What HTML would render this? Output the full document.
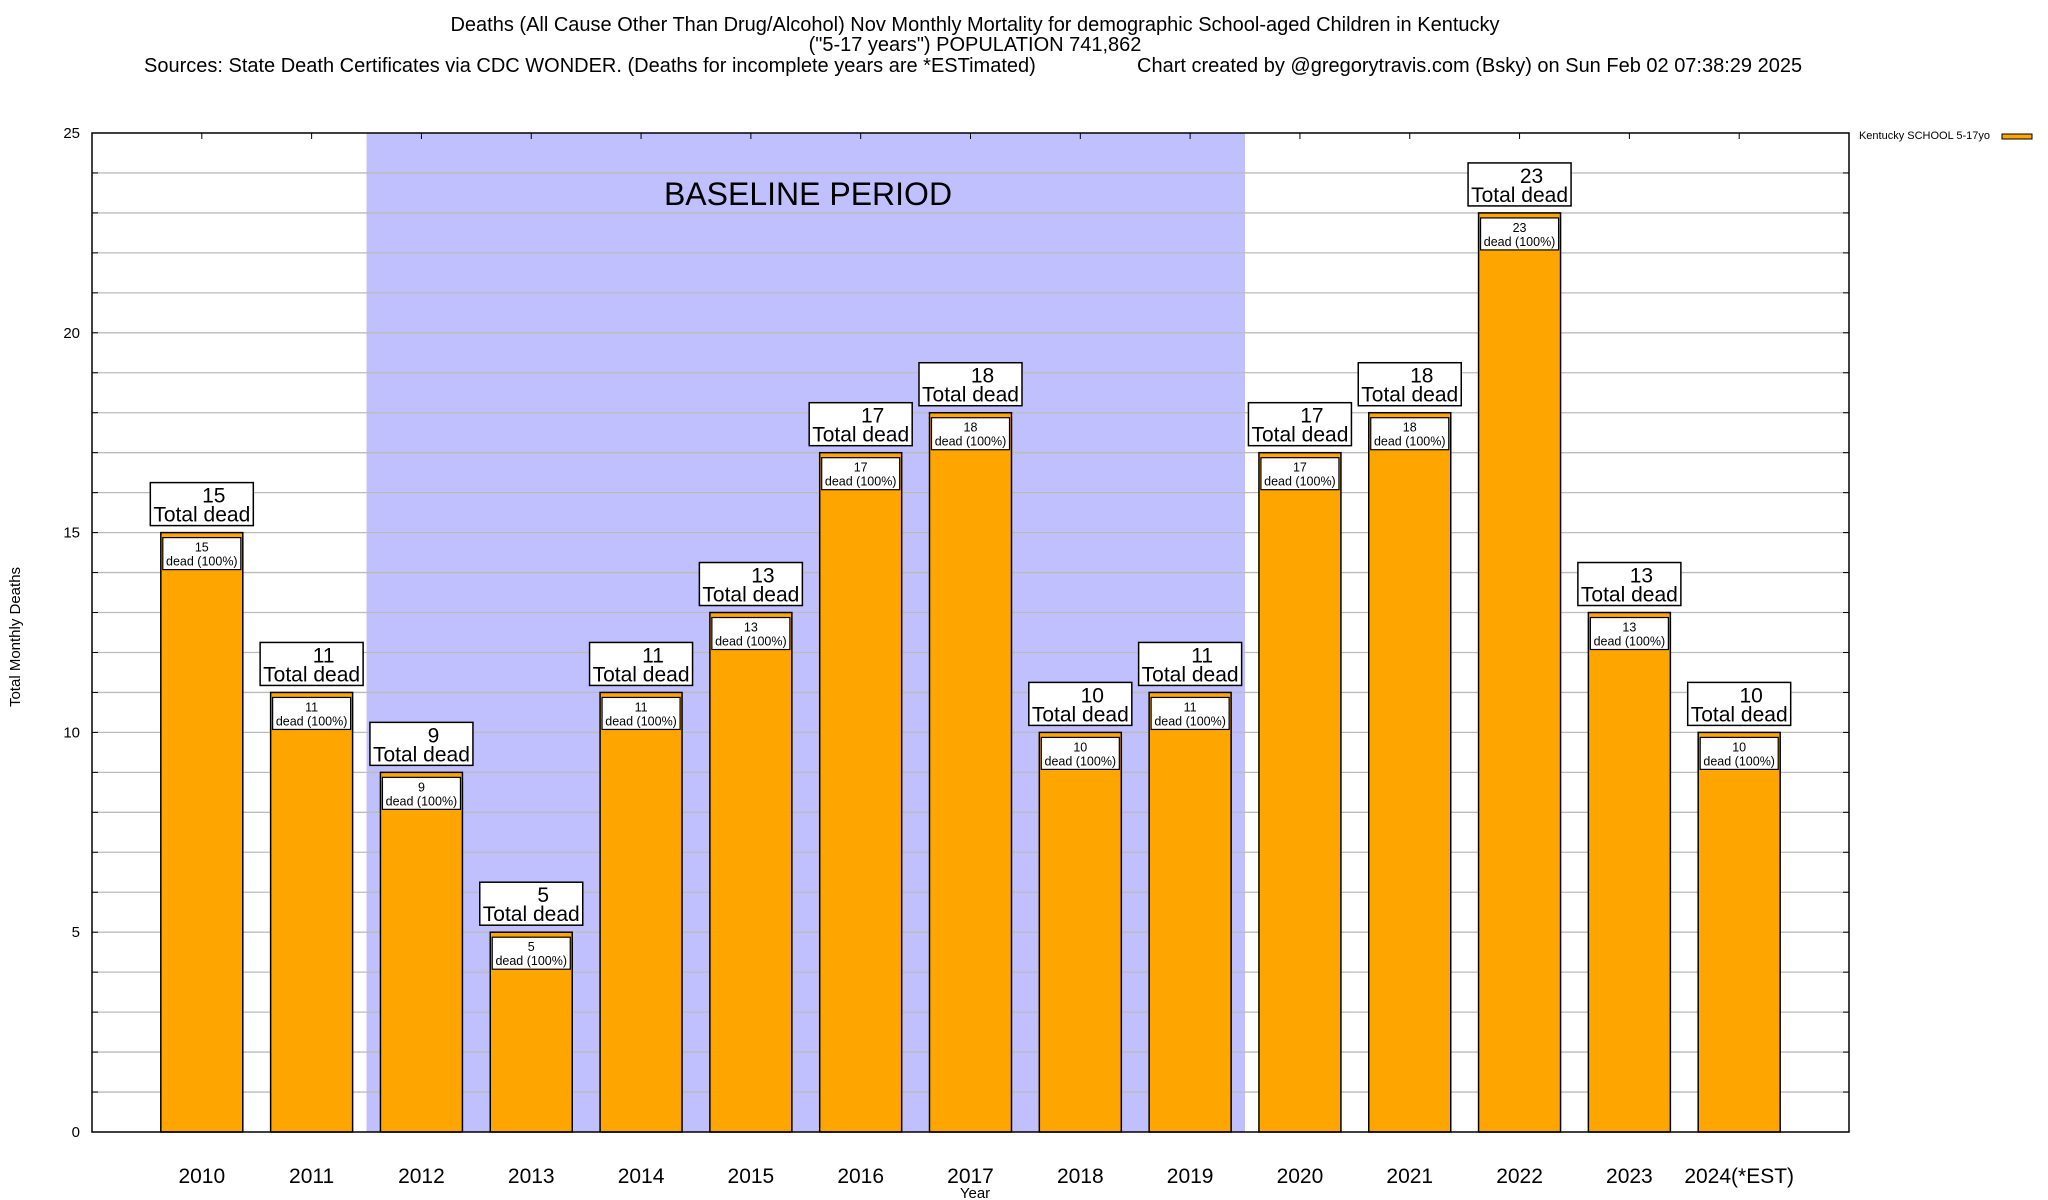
<!DOCTYPE html>
<html><head><meta charset="utf-8"><style>
body{margin:0;background:#fff}
svg{display:block;font-family:"Liberation Sans",Arial,sans-serif}
</style></head><body>
<svg id="chart" width="2048" height="1200" viewBox="0 0 2048 1200" xmlns="http://www.w3.org/2000/svg">
<rect width="2048" height="1200" fill="#fff"/>
<g font-size="20" fill="#000">
<text x="975" y="31" text-anchor="middle">Deaths (All Cause Other Than Drug/Alcohol) Nov Monthly Mortality for demographic School-aged Children in Kentucky</text>
<text x="975" y="51" text-anchor="middle">("5-17 years") POPULATION 741,862</text>
<text x="144" y="72">Sources: State Death Certificates via CDC WONDER. (Deaths for incomplete years are *ESTimated)</text>
<text x="1137" y="72">Chart created by @gregorytravis.com (Bsky) on Sun Feb 02 07:38:29 2025</text>
</g>
<g id="plot"></g>
<g>
<text x="1990" y="139" font-size="11" text-anchor="end">Kentucky SCHOOL 5-17yo</text>
<rect x="2002" y="134" width="30" height="5" fill="#ffa500" stroke="#000" stroke-width="1"/>
</g>
<text transform="translate(20,637) rotate(-90)" font-size="15" text-anchor="middle">Total Monthly Deaths</text>
<text x="975" y="1198" font-size="15" text-anchor="middle">Year</text>
</svg>
<script>
const categories=["2010","2011","2012","2013","2014","2015","2016","2017","2018","2019","2020","2021","2022","2023","2024(*EST)"];
const deaths=[15,11,9,5,11,13,17,18,10,11,17,18,23,13,10];
const yTicks=[0,5,10,15,20,25];
const baselineStart=1.5, baselineEnd=9.5;
const L=92,R=1849,T=133,B=1132,yMax=25;
const xs=i=>L+(i+1)*(R-L)/16;
const ys=v=>B-v*(B-T)/yMax;
const NS="http://www.w3.org/2000/svg";
const g=document.getElementById('plot');
function mk(t,a,p){const e=document.createElementNS(NS,t);for(const k in a)e.setAttribute(k,a[k]);(p||g).appendChild(e);return e;}
let e=mk('rect',{x:xs(baselineStart),y:T,width:xs(baselineEnd)-xs(baselineStart),height:B-T,fill:'#c0c0ff'});


for(let v=1;v<yMax;v++){e=mk('line',{x1:L,x2:R,y1:ys(v),y2:ys(v),stroke:'#bbb','stroke-width':1.3});


mk('line',{x1:L,x2:L+6,y1:ys(v),y2:ys(v),stroke:'#000'});mk('line',{x1:R-6,x2:R,y1:ys(v),y2:ys(v),stroke:'#000'});}
yTicks.forEach(v=>{e=mk('text',{x:L-12,y:ys(v)+5,'font-size':15,'text-anchor':'end'});e.textContent=v;

});
e=mk('text',{x:808,y:205,'font-size':32,'text-anchor':'middle'});e.textContent='BASELINE PERIOD';


const bw=82;
categories.forEach((c,i)=>{
 const cx=xs(i),y=ys(deaths[i]);
 mk('line',{x1:cx,x2:cx,y1:T,y2:T+6,stroke:'#000'});
 e=mk('rect',{x:cx-bw/2,y:y,width:bw,height:B-y,fill:'#ffa500',stroke:'#000','stroke-width':1.5});
 
 
 e=mk('rect',{x:cx-bw/2+2,y:y+5,width:bw-4,height:32,fill:'#fff',stroke:'#000','stroke-width':1.2});
 
 
 e=mk('text',{x:cx,y:y+19,'font-size':12.5,'text-anchor':'middle'});e.textContent=deaths[i];
 
 
 e=mk('text',{x:cx,y:y+33,'font-size':12.5,'text-anchor':'middle'});e.textContent='dead (100%)';
 
 
 e=mk('rect',{x:cx-51.5,y:y-50,width:103,height:43,fill:'#fff',stroke:'#000','stroke-width':1.5});
 
 
 e=mk('text',{x:cx+12,y:y-30,'font-size':21,'text-anchor':'middle'});e.textContent=deaths[i];
 
 
 e=mk('text',{x:cx,y:y-11,'font-size':21,'text-anchor':'middle'});e.textContent='Total dead';
 
 
 e=mk('text',{x:cx,y:1183,'font-size':21,'text-anchor':'middle'});e.textContent=c;
 
 
});
e=mk('rect',{x:L,y:T,width:R-L,height:B-T,fill:'none',stroke:'#000','stroke-width':1.5});


</script>
</body></html>
